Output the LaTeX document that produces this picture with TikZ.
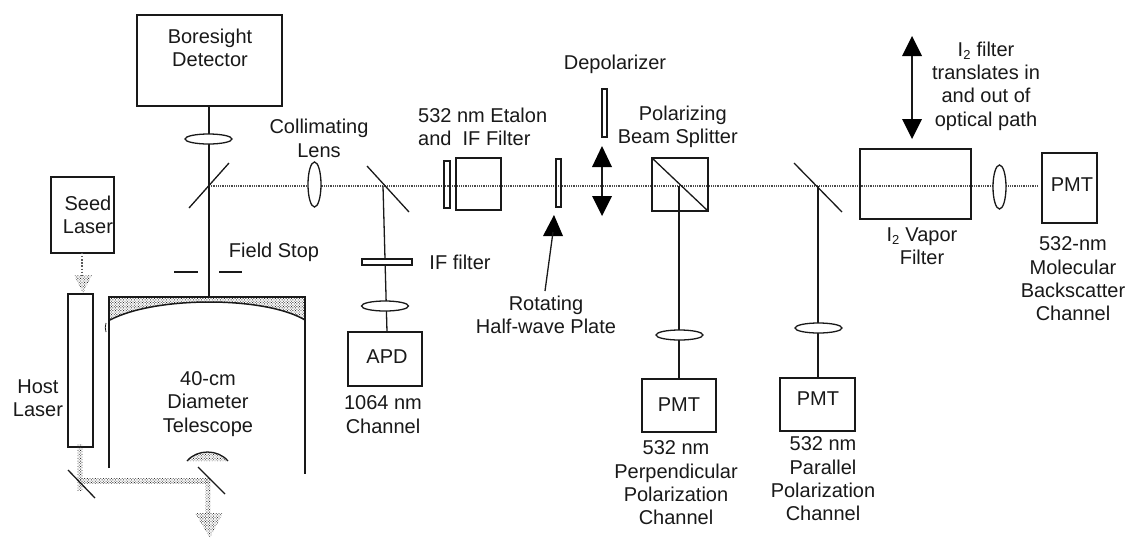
\documentclass[tikz,border=0pt]{standalone}
\usepackage{fontspec}
\setmainfont{Liberation Sans}
\usetikzlibrary{patterns,patterns.meta}
\tikzset{
  x=1pt,y=-1pt,
  ln/.style={draw=black!90,line width=1.3pt},
  opt/.style={ln,fill=white},
  beam/.style={draw=black!70,line width=1.4pt,dash pattern=on 1pt off 0.8pt},
  seedbeam/.style={draw=black!65,line width=1.4pt,dash pattern=on 1.3pt off 1.8pt},
  dots/.style={pattern={Dots[distance=1.9pt,radius=0.6pt,angle=45]},pattern color=black!80,draw=none},
  lbl/.style={align=center,font=\fontsize{20}{23.4}\selectfont,inner sep=0pt,text=black!90},
  headfill/.style={fill=black,draw=none},
}
\newcommand{\subtwo}[1]{\textsubscript{\fontsize{13}{13}\selectfont #1}}
\begin{document}
\begin{tikzpicture}
\useasboundingbox (0,0) rectangle (1128,539);
\fill[white] (0,0) rectangle (1128,539);
% beam
\coordinate (bs) at (209,186);
\coordinate (be) at (1038,186);
\draw[beam] (bs) -- (be);
% boxes
\draw[ln,line width=1.6pt] (137,15) rectangle (282,106);
\node[lbl] (bore) at (210,48) {Boresight\\Detector};
\draw[ln] (51,177) rectangle (114,253);
\node[lbl] (seed) at (88,215) {Seed\\Laser};
\draw[ln] (68,294) rectangle (93,447);
\node[lbl] (host) at (38,398) {Host\\Laser};
% seed arrow
\draw[seedbeam] (82,253) -- (82,276);
\fill[dots] (74,275) -- (92,275) -- (83,293) -- cycle;
% laser beam path
\fill[dots] (77.5,444) rectangle (82.5,490);
\fill[dots] (80,478.5) rectangle (208,483.5);
\fill[dots] (205.5,478.5) rectangle (210.5,513);
\fill[dots] (195,513) -- (223,513) -- (210,538) -- cycle;
\draw[ln] (68,470) -- (95,498);
\draw[ln] (198,467) -- (225,494);
% telescope
\fill[dots] (109,297) -- (305,297) -- (305,320) .. controls (265,296) and (155,296) .. (110,320) -- cycle;
\draw[ln] (109,468) -- (109,297) -- (305,297) -- (305,474);
\draw[ln,line width=1.5pt] (110,320) .. controls (155,296) and (265,296) .. (305,320);
\draw[ln,line width=.8pt] (106,323) .. controls (105,326) and (105,329) .. (106,332);
\fill[dots] (187,461) .. controls (197,449) and (218,449) .. (228,461) -- cycle;
\draw[ln] (187,461) .. controls (197,449) and (218,449) .. (228,461);
\node[lbl] (tel) at (208,404) {40-cm\\Diameter\\Telescope};
% boresight vertical
\draw[ln] (209,106) -- (209,297);
\draw[opt] (208.5,139) ellipse (23.5 and 5);
\draw[ln] (189,208) -- (229,163);
\draw[ln] (174,272) -- (198,272);
\draw[ln] (219,272) -- (242,272);
\node[lbl] (fs) at (274,252) {Field Stop};
% collimating
\draw[opt] (314.5,184.5) ellipse (6.5 and 22.5);
\node[lbl] (cl) at (319,138.5) {Collimating\\Lens};
% 1064 branch
\draw[ln] (383,186) -- (387,332);
\draw[ln] (367,166) -- (409,212);
\draw[opt] (362,259) rectangle (412,265);
\draw[opt] (385,306) ellipse (23.5 and 5);
\draw[ln] (348,332) rectangle (422,386);
\node[lbl] (apd) at (387,357) {APD};
\node[lbl] (iff) at (460,262) {IF filter};
\node[lbl] (c1064) at (383,414.5) {1064 nm\\Channel};
% etalon
\draw[ln] (444,161) rectangle (450,208);
\draw[ln] (456,158) rectangle (501,210);
\node[lbl,align=left,anchor=west] (et) at (418,127) {532 nm Etalon\\and\ \ IF Filter};
% half wave
\draw[ln] (556,159) rectangle (561,207);
\fill[headfill] (554,215) -- (563,236) -- (543,236) -- cycle;
\draw[ln] (553,232) -- (545,291);
\node[lbl] (hw) at (546,315) {Rotating\\Half-wave Plate};
% depolarizer
\draw[opt] (602,89) rectangle (607,137);
\node[lbl] (dep) at (615,64) {Depolarizer};
\draw[ln] (602,160) -- (602,200);
\fill[headfill] (602,146) -- (612,167) -- (592,167) -- cycle;
\fill[headfill] (602,216) -- (612,196) -- (592,196) -- cycle;
% PBS
\draw[ln] (652,158) rectangle (708,211);
\draw[ln] (652,158) -- (708,211);
\node[lbl,align=right,anchor=east] (pbs) at (738,127) {Polarizing\ \ \ \\Beam Splitter};
\draw[ln] (679,186) -- (679,379);
\draw[opt] (679.5,335) ellipse (23.5 and 5);
\draw[ln] (642,379) rectangle (716,432);
\node[lbl] (p1) at (679,405) {PMT};
\node[lbl] (c1) at (676,483) {532 nm\\Perpendicular\\Polarization\\Channel};
% parallel
\draw[ln] (818,186) -- (818,378);
\draw[ln] (794,163) -- (842,212);
\draw[opt] (818.5,328) ellipse (23.5 and 5);
\draw[ln] (780,378) rectangle (855,431);
\node[lbl] (p2) at (818,399) {PMT};
\node[lbl] (c2) at (823,479) {532 nm\\Parallel\\Polarization\\Channel};
% iodine
\draw[ln] (860,149) rectangle (971,219);
\node[lbl] (va) at (922,246.5) {I\subtwo{2} Vapor\\Filter};
\draw[ln] (912,50) -- (912,125);
\fill[headfill] (912,36) -- (922,56) -- (902,56) -- cycle;
\fill[headfill] (912,139) -- (922,119) -- (902,119) -- cycle;
\node[lbl] (tr) at (986,86) {I\subtwo{2} filter\\translates in\\and out of\\optical path};
\draw[opt] (999.5,187) ellipse (6.5 and 22);
\draw[ln] (1042,153) rectangle (1097,223);
\node[lbl] (p3) at (1072,185) {PMT};
\node[lbl] (c3) at (1073,279) {532-nm\\Molecular\\Backscatter\\Channel};
\end{tikzpicture}
\end{document}
